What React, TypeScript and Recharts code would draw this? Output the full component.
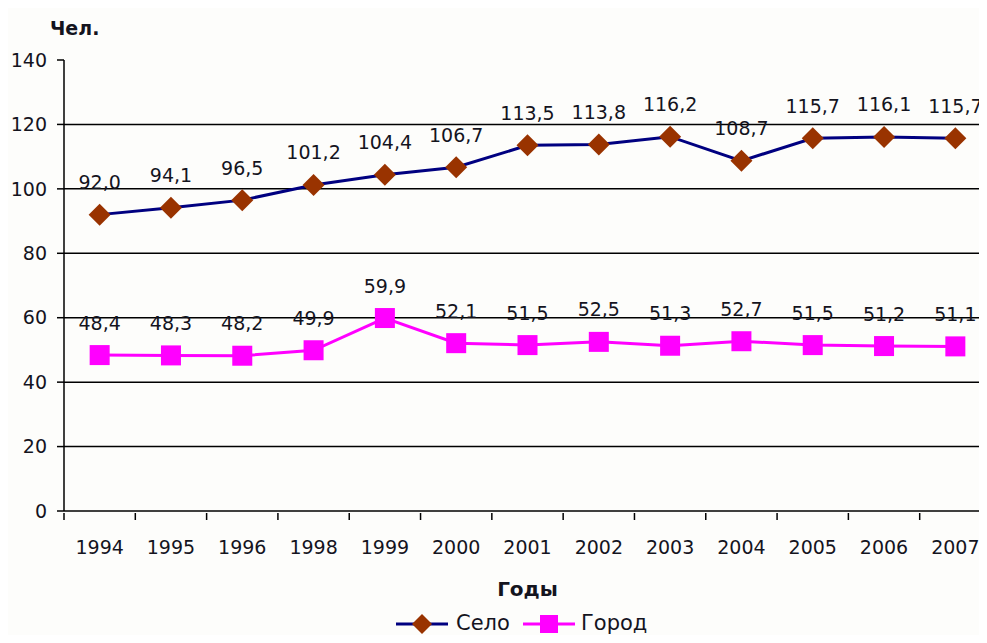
import React from 'react';
import {
  LineChart,
  Line,
  XAxis,
  YAxis,
  ReferenceLine,
  LabelList,
  Label,
} from 'recharts';

const years = ['1994', '1995', '1996', '1998', '1999', '2000', '2001', '2002', '2003', '2004', '2005', '2006', '2007'];
const selo = [92.0, 94.1, 96.5, 101.2, 104.4, 106.7, 113.5, 113.8, 116.2, 108.7, 115.7, 116.1, 115.7];
const gorod = [48.4, 48.3, 48.2, 49.9, 59.9, 52.1, 51.5, 52.5, 51.3, 52.7, 51.5, 51.2, 51.1];
const yTicks = [0, 20, 40, 60, 80, 100, 120, 140];
const gridValues = [20, 40, 60, 80, 100, 120];

const data = years.map((year, i) => ({ year, selo: selo[i], gorod: gorod[i] }));

const FONT = '"DejaVu Sans", Verdana, sans-serif';
const TEXT = '#14141e';
const CHART_W = 1000;
const CHART_H = 643;
const PLOT_LEFT = 64;
const PLOT_RIGHT = 991;
const BAND = (PLOT_RIGHT - PLOT_LEFT) / years.length;

const fmt = (v: number) => v.toFixed(1).replace('.', ',');

const XTick = (props: any) => {
  const { x, y, payload } = props;
  const left = x - BAND / 2;
  return (
    <g>
      <line x1={left} y1={y} x2={left} y2={y + 7} stroke="#000" strokeWidth={1.5} />
      {payload.index === years.length - 1 && (
        <line x1={left + BAND} y1={y} x2={left + BAND} y2={y + 7} stroke="#000" strokeWidth={1.5} />
      )}
      <text x={x} y={y + 35} textAnchor="middle" dominantBaseline="middle" fontSize={19} fontFamily={FONT} fill={TEXT}>
        {payload.value}
      </text>
    </g>
  );
};

const Diamond = (props: any) => {
  const { cx, cy, index } = props;
  const r = 11;
  return (
    <path
      key={`d-${index}`}
      d={`M${cx},${cy - r} L${cx + r},${cy} L${cx},${cy + r} L${cx - r},${cy} Z`}
      fill="#993300"
    />
  );
};

const Square = (props: any) => {
  const { cx, cy, index } = props;
  return <rect key={`s-${index}`} x={cx - 10} y={cy - 10} width={20} height={20} fill="#ff00ff" />;
};

const ValueLabel = (props: any) => {
  const { x, y, value } = props;
  return (
    <text x={x} y={y - 31} textAnchor="middle" dominantBaseline="middle" fontSize={19} fontFamily={FONT} fill={TEXT}>
      {fmt(value)}
    </text>
  );
};

// axis title plus legend, drawn below the x axis
const BottomLabels = (p: any) => {
  const top = p.viewBox.y;
  const ly = top + 113;
  return (
    <g fontFamily={FONT} fill={TEXT}>
      <text
        x={p.viewBox.x + p.viewBox.width / 2}
        y={top + 79}
        textAnchor="middle"
        dominantBaseline="middle"
        fontSize={20}
        fontWeight="bold"
      >
        Годы
      </text>
      <line x1={396} y1={ly} x2={448} y2={ly} stroke="#000080" strokeWidth={3} />
      <path d={`M422,${ly - 10} L432,${ly} L422,${ly + 10} L412,${ly} Z`} fill="#993300" />
      <text x={456} y={ly} dominantBaseline="middle" fontSize={21}>
        Село
      </text>
      <line x1={523} y1={ly} x2={575} y2={ly} stroke="#ff00ff" strokeWidth={3} />
      <rect x={540} y={ly - 9} width={18} height={18} fill="#ff00ff" />
      <text x={581} y={ly} dominantBaseline="middle" fontSize={21}>
        Город
      </text>
    </g>
  );
};

export default function App() {
  return (
    <div style={{ margin: -8, width: 987, height: 643, overflow: 'hidden', background: '#fdfdfb' }}>
      <LineChart
        width={CHART_W}
        height={CHART_H}
        data={data}
        margin={{ top: 60, right: CHART_W - PLOT_RIGHT, bottom: 0, left: 0 }}
      >
        {gridValues.map((v) => (
          <ReferenceLine key={v} y={v} stroke="#000" strokeWidth={1.5} ifOverflow="extendDomain" />
        ))}
        <XAxis
          dataKey="year"
          height={CHART_H - 60 - 451}
          tickSize={0}
          tickLine={false}
          interval={0}
          padding={{ left: BAND / 2, right: BAND / 2 }}
          tick={<XTick />}
          axisLine={{ stroke: '#000', strokeWidth: 1.5 }}
        >
          <Label content={BottomLabels} />
        </XAxis>
        <YAxis
          width={PLOT_LEFT}
          domain={[0, 140]}
          ticks={yTicks}
          interval={0}
          tickSize={7}
          tickMargin={10}
          tick={{ fontSize: 19, fontFamily: FONT, fill: TEXT }}
          tickLine={{ stroke: '#000', strokeWidth: 1.5 }}
          axisLine={{ stroke: '#000', strokeWidth: 1.5 }}
        >
          <Label
            content={(p: any) => (
              <text
                x={p.viewBox.x + 50}
                y={p.viewBox.y - 31}
                dominantBaseline="middle"
                fontSize={19}
                fontWeight="bold"
                fontFamily={FONT}
                fill={TEXT}
              >
                Чел.
              </text>
            )}
          />
        </YAxis>
        <Line
          dataKey="selo"
          name="Село"
          stroke="#000080"
          strokeWidth={3}
          dot={Diamond}
          activeDot={false}
          isAnimationActive={false}
        >
          <LabelList dataKey="selo" content={<ValueLabel />} />
        </Line>
        <Line
          dataKey="gorod"
          name="Город"
          stroke="#ff00ff"
          strokeWidth={3}
          dot={Square}
          activeDot={false}
          isAnimationActive={false}
        >
          <LabelList dataKey="gorod" content={<ValueLabel />} />
        </Line>
      </LineChart>
    </div>
  );
}
